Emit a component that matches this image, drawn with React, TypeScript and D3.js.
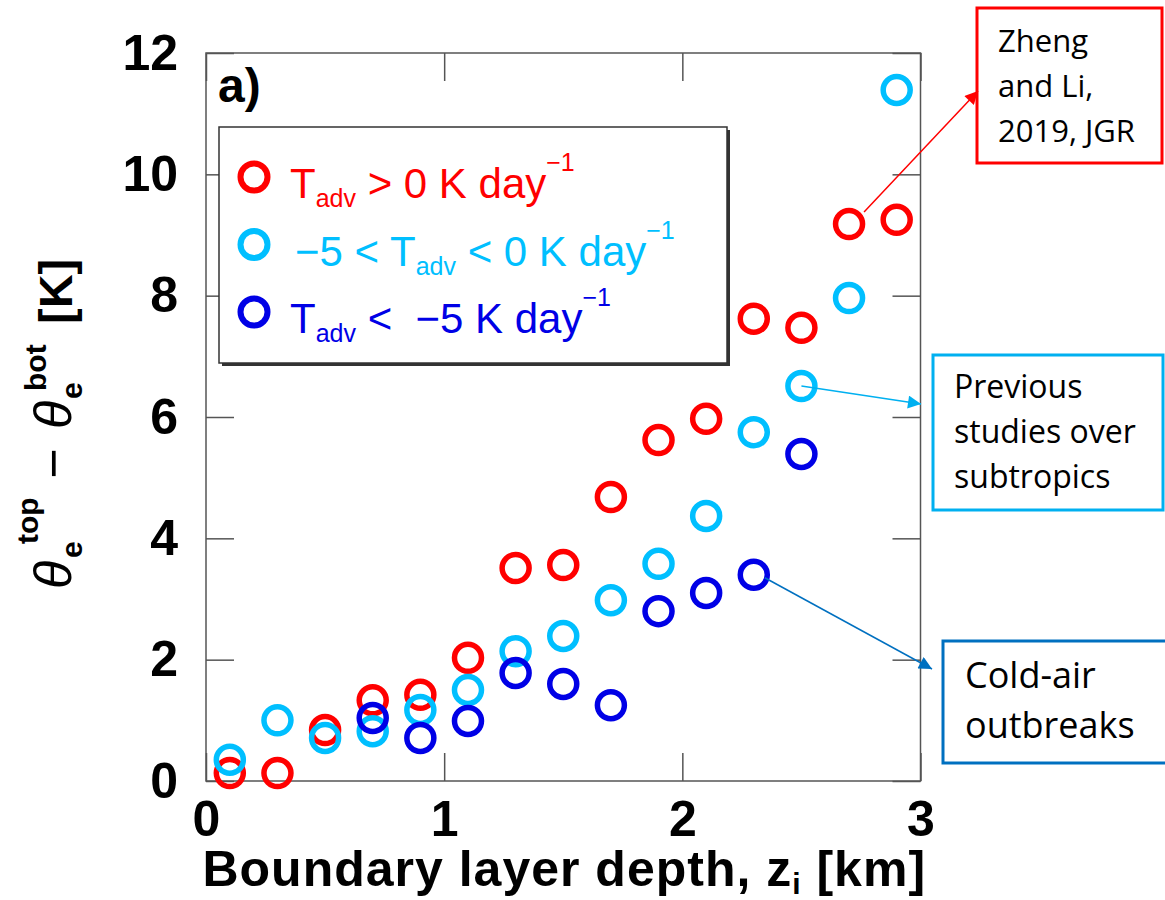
import React, { useEffect, useRef } from "react";
import * as d3 from "d3";

// boundary layer depth bins (km)
const depthBins = [0.1, 0.3, 0.5, 0.7, 0.9, 1.1, 1.3, 1.5, 1.7, 1.9, 2.1, 2.3, 2.5, 2.7, 2.9];
// T_adv > 0
const warmJump = [0.13, 0.13, 0.84, 1.33, 1.42, 2.03, 3.51, 3.56, 4.68, 5.62, 5.97, 7.62, 7.47, 9.18, 9.25];
// -5 < T_adv < 0
const mildJump = [0.35, 1.0, 0.71, 0.82, 1.17, 1.5, 2.14, 2.39, 2.98, 3.58, 4.37, 5.75, 6.51, 7.96, 11.39];
// T_adv < -5
const coldBins = [0.7, 0.9, 1.1, 1.3, 1.5, 1.7, 1.9, 2.1, 2.3, 2.5];
const coldJump = [1.04, 0.71, 0.99, 1.78, 1.6, 1.25, 2.8, 3.1, 3.4, 5.39];

const xTicks = [0, 1, 2, 3];
const yTicks = [0, 2, 4, 6, 8, 10, 12];

const RED = "#ff0000";
const CYAN = "#00bfff";
const BLUE = "#0000e6";
const SANS = "'Liberation Sans', Arial, Helvetica, sans-serif";
const NOTE = "'Open Sans', 'Noto Sans', sans-serif";

const App = () => {
  const svgRef = useRef<SVGSVGElement>(null);

  useEffect(() => {
    const W = 1165;
    const H = 900;
    const left = 206, right = 920.5, top = 53, bottom = 781;
    const svg = d3.select(svgRef.current).attr("width", W).attr("height", H);
    svg.selectAll("*").remove();

    const x = d3.scaleLinear().domain([0, 3]).range([left, right]);
    const y = d3.scaleLinear().domain([0, 12]).range([bottom, top]);

    // frame
    svg.append("rect")
      .attr("x", left).attr("y", top)
      .attr("width", right - left).attr("height", bottom - top)
      .attr("fill", "none").attr("stroke", "#555").attr("stroke-width", 1.5);

    const tickLen = -28;
    const styleAxis = (g: any, withText: boolean) => {
      g.select(".domain").remove();
      g.selectAll(".tick line").attr("stroke", "#555").attr("stroke-width", 1.5);
      if (withText) {
        g.selectAll(".tick text")
          .attr("fill", "#000")
          .style("font-family", SANS)
          .style("font-weight", "bold")
          .style("font-size", "50px");
      } else {
        g.selectAll(".tick text").remove();
      }
    };

    svg.append("g").attr("transform", `translate(0,${bottom})`)
      .call(d3.axisBottom(x).tickValues(xTicks).tickFormat(d3.format("d")).tickSizeInner(tickLen).tickSizeOuter(0).tickPadding(19))
      .call((g: any) => styleAxis(g, true));
    svg.append("g").attr("transform", `translate(0,${top})`)
      .call(d3.axisTop(x).tickValues(xTicks).tickSizeInner(tickLen).tickSizeOuter(0))
      .call((g: any) => styleAxis(g, false));
    svg.append("g").attr("transform", `translate(${left},0)`)
      .call(d3.axisLeft(y).tickValues(yTicks).tickFormat(d3.format("d")).tickSizeInner(tickLen).tickSizeOuter(0).tickPadding(28))
      .call((g: any) => styleAxis(g, true));
    svg.append("g").attr("transform", `translate(${right},0)`)
      .call(d3.axisRight(y).tickValues(yTicks).tickSizeInner(tickLen).tickSizeOuter(0))
      .call((g: any) => styleAxis(g, false));

    // points
    const series = [
      { xs: depthBins, ys: warmJump, color: RED },
      { xs: depthBins, ys: mildJump, color: CYAN },
      { xs: coldBins, ys: coldJump, color: BLUE },
    ];
    series.forEach(s => {
      svg.append("g").selectAll("circle")
        .data(s.ys)
        .join("circle")
        .attr("cx", (d, i) => x(s.xs[i]))
        .attr("cy", d => y(d))
        .attr("r", 13.5)
        .attr("fill", "none")
        .attr("stroke", s.color)
        .attr("stroke-width", 5.5);
    });

    // panel tag
    svg.append("text").attr("x", 218).attr("y", 102)
      .style("font-family", SANS).style("font-weight", "bold").style("font-size", "48px")
      .text("a)");

    // legend
    const lg = svg.append("g");
    lg.append("rect").attr("x", 222).attr("y", 130).attr("width", 508).attr("height", 236).attr("fill", "#333");
    lg.append("rect").attr("x", 219).attr("y", 127).attr("width", 508).attr("height", 236)
      .attr("fill", "#fff").attr("stroke", "#333").attr("stroke-width", 1.5);
    const rows = [
      { color: RED, parts: [["T", 0], ["adv", 1], [" > 0 K day", 0], ["\u22121", 2]] },
      { color: CYAN, parts: [["\u22125 < T", 0], ["adv", 1], [" < 0 K day", 0], ["\u22121", 2]] },
      { color: BLUE, parts: [["T", 0], ["adv", 1], [" <  \u22125 K day", 0], ["\u22121", 2]] },
    ];
    rows.forEach((r, i) => {
      const base = 198 + i * 67.5;
      lg.append("circle").attr("cx", 254).attr("cy", base - 21).attr("r", 13.5)
        .attr("fill", "none").attr("stroke", r.color).attr("stroke-width", 6);
      const t = lg.append("text").attr("x", i === 1 ? 295 : 290).attr("y", base)
        .attr("fill", r.color).style("font-family", SANS).style("font-size", "42px")
        .style("white-space", "pre");
      let shift = 0;
      r.parts.forEach(([s, kind]) => {
        const sp = t.append("tspan").text(s as string);
        const target = kind === 1 ? 9 : kind === 2 ? -27 : 0;
        sp.attr("dy", target - shift);
        shift = target;
        if (kind !== 0) sp.style("font-size", "25px");
      });
    });

    // x label
    const xl = svg.append("text").attr("x", (left + right) / 2 + 1).attr("y", 886)
      .attr("text-anchor", "middle")
      .style("font-family", SANS).style("font-weight", "bold").style("font-size", "50px")
      .style("letter-spacing", "1px");
    xl.append("tspan").text("Boundary layer depth, z");
    xl.append("tspan").text("i").attr("dy", 8).style("font-size", "30px");
    xl.append("tspan").text(" [km]").attr("dy", -8);

    // y label: rotated group, local x = -screenY, local y = screenX
    const yl = svg.append("g").attr("transform", "rotate(-90)")
      .style("font-family", SANS);
    const piece = (s: string, sy: number, sx: number, size: number, bold: boolean, italic = false, anchor = "start") => {
      yl.append("text").attr("x", -sy).attr("y", sx)
        .attr("text-anchor", anchor)
        .style("font-size", size + "px")
        .style("font-weight", bold ? "bold" : "normal")
        .style("font-style", italic ? "italic" : "normal")
        .text(s);
    };
    piece("\u03b8", 589, 71, 52, false, true);
    piece("e", 558, 82, 30, true);
    piece("top", 544, 38, 30, true);
    piece("\u2212", 463.5, 71, 52, false, false, "middle");
    piece("\u03b8", 429, 71, 52, false, true);
    piece("e", 399, 82, 30, true);
    piece("bot", 391, 46, 30, true);
    piece("[K]", 324, 72, 47, true);

    // annotations
    const note = (bx: number, by: number, bw: number, bh: number, color: string,
      lines: string[], tx: number, ty: number, lh: number, fs: number) => {
      svg.append("rect").attr("x", bx).attr("y", by).attr("width", bw).attr("height", bh)
        .attr("fill", "#fff").attr("stroke", color).attr("stroke-width", 3);
      const t = svg.append("text").style("font-family", NOTE).style("font-size", fs + "px").attr("fill", "#000");
      lines.forEach((l, i) => t.append("tspan").attr("x", tx).attr("y", ty + i * lh).text(l));
    };
    note(977, 8, 185, 155, RED, ["Zheng", "and Li,", "2019, JGR"], 998, 52, 45, 31);
    note(933, 355, 230, 155, "#00b0f0", ["Previous", "studies over", "subtropics"], 954, 398, 45, 32);
    note(943, 641, 230, 122, "#0070c0", ["Cold-air", "outbreaks"], 965, 688, 50, 36);

    const defs = svg.append("defs");
    const arrow = (id: string, color: string, x1: number, y1: number, x2: number, y2: number) => {
      defs.append("marker").attr("id", id)
        .attr("viewBox", "0 0 10 10").attr("refX", 10).attr("refY", 5)
        .attr("markerWidth", 16).attr("markerHeight", 13).attr("markerUnits", "userSpaceOnUse")
        .attr("orient", "auto")
        .append("path").attr("d", "M0,0 L10,5 L0,10 z").attr("fill", color);
      svg.append("line").attr("x1", x1).attr("y1", y1).attr("x2", x2).attr("y2", y2)
        .attr("stroke", color).attr("stroke-width", 1.5).attr("marker-end", `url(#${id})`);
    };
    arrow("arRed", RED, x(2.7) + 15, y(9.18) - 12, 978, 91);
    arrow("arCyan", "#00b0f0", x(2.5), y(6.51), 921, 404);
    arrow("arBlue", "#0070c0", x(2.3) + 11, y(3.4) + 3, 932, 669);
  }, []);

  return (
    <svg ref={svgRef} style={{ position: "absolute", left: 0, top: 0 }}></svg>
  );
};

export default App;
